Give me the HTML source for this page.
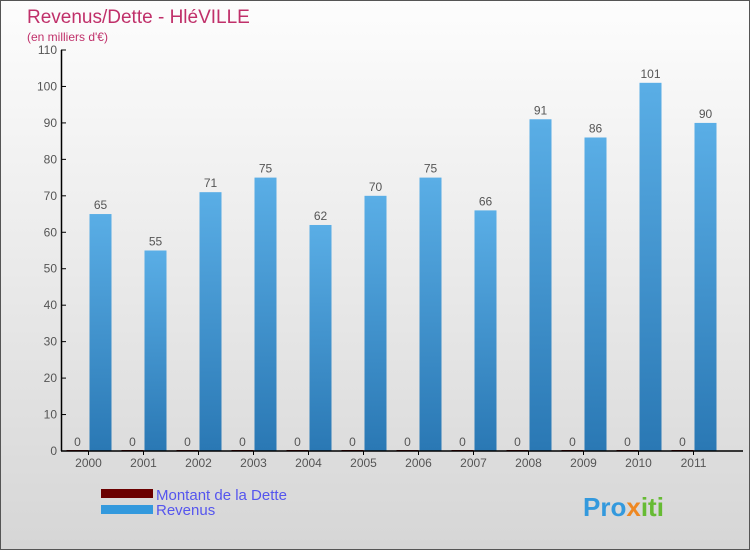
<!DOCTYPE html>
<html><head><meta charset="utf-8"><style>
body{margin:0;}
#c{width:750px;height:550px;position:relative;overflow:hidden;box-sizing:border-box;border:1px solid #555;background:linear-gradient(#fdfdfd,#d6d6d6);font-family:"Liberation Sans",sans-serif;}
text{font-family:"Liberation Sans",sans-serif;}
</style></head><body>
<div id="c">
<svg id="s" width="750" height="550">
<text x="26" y="22" font-size="19" fill="#c0306a">Revenus/Dette - HléVILLE</text>
<text x="26" y="40" font-size="12" fill="#c0306a">(en milliers d'€)</text>
<g id="g"></g>
<rect x="100" y="488" width="52" height="9" fill="#6b0000"/>
<text x="155" y="499" font-size="15" fill="#5555ee">Montant de la Dette</text>
<rect x="100" y="504" width="52" height="9" fill="#3399dd"/>
<text x="155" y="514" font-size="15" fill="#5555ee">Revenus</text>
<text x="582" y="515" font-size="26" font-weight="bold" fill="#3399dd">Pro<tspan fill="#ee8822">x</tspan><tspan fill="#66bb33">iti</tspan></text>
</svg>
</div>
<script>
const years=["2000","2001","2002","2003","2004","2005","2006","2007","2008","2009","2010","2011"];
const revenus=[65,55,71,75,62,70,75,66,91,86,101,90];
const dette=[0,0,0,0,0,0,0,0,0,0,0,0];
const yTicks=[0,10,20,30,40,50,60,70,80,90,100,110];
const NS="http://www.w3.org/2000/svg";
const g=document.getElementById('g');
const x0=60,bw=55,yb=450,yt=49,ymax=110;
function y(v){return yb-(v/ymax)*(yb-yt);}
function xc(i){return x0+bw*(i+0.5);}
function mk(t,a,p){const e=document.createElementNS(NS,t);for(const k in a)e.setAttribute(k,a[k]);(p||g).appendChild(e);return e;}
const defs=mk('defs',{});
const lg=mk('linearGradient',{id:'rg',x1:0,y1:0,x2:0,y2:1},defs);
mk('stop',{offset:'0','stop-color':'#5aaee6'},lg);mk('stop',{offset:'1','stop-color':'#2a78b4'},lg);
yTicks.forEach(v=>{
 const t=mk('text',{x:56,y:y(v)+4,'font-size':12,'text-anchor':'end',fill:'#555'});t.textContent=v;
 
 
 const l=mk('line',{x1:60,x2:65,y1:y(v),y2:y(v),stroke:'#000'});
 
 
});
years.forEach((yr,i)=>{
 const c=xc(i);
 const d=mk('rect',{x:c-22,y:y(dette[i])-1,width:22,height:Math.max(1,yb-y(dette[i])),fill:'#6b0000'});
 
 
 const dl=mk('text',{x:c-11,y:y(dette[i])-5,'font-size':12,'text-anchor':'middle',fill:'#555'});dl.textContent=dette[i];
 
 
 const r=mk('rect',{x:c+1,y:y(revenus[i]),width:22,height:yb-y(revenus[i]),fill:'url(#rg)'});
 
 
 const rl=mk('text',{x:c+12,y:y(revenus[i])-5,'font-size':12,'text-anchor':'middle',fill:'#555'});rl.textContent=revenus[i];
 
 
 const tk=mk('line',{x1:c,x2:c,y1:yb,y2:yb+4,stroke:'#000'});
 
 
 const xl=mk('text',{x:c,y:466,'font-size':12,'text-anchor':'middle',fill:'#555'});xl.textContent=yr;
 
 
});
const ya=mk('line',{x1:60.5,x2:60.5,y1:yt,y2:yb,stroke:'#000','stroke-width':1.5});


const xa=mk('line',{x1:60,x2:742,y1:yb,y2:yb,stroke:'#000','stroke-width':1.5});


</script>
</body></html>
